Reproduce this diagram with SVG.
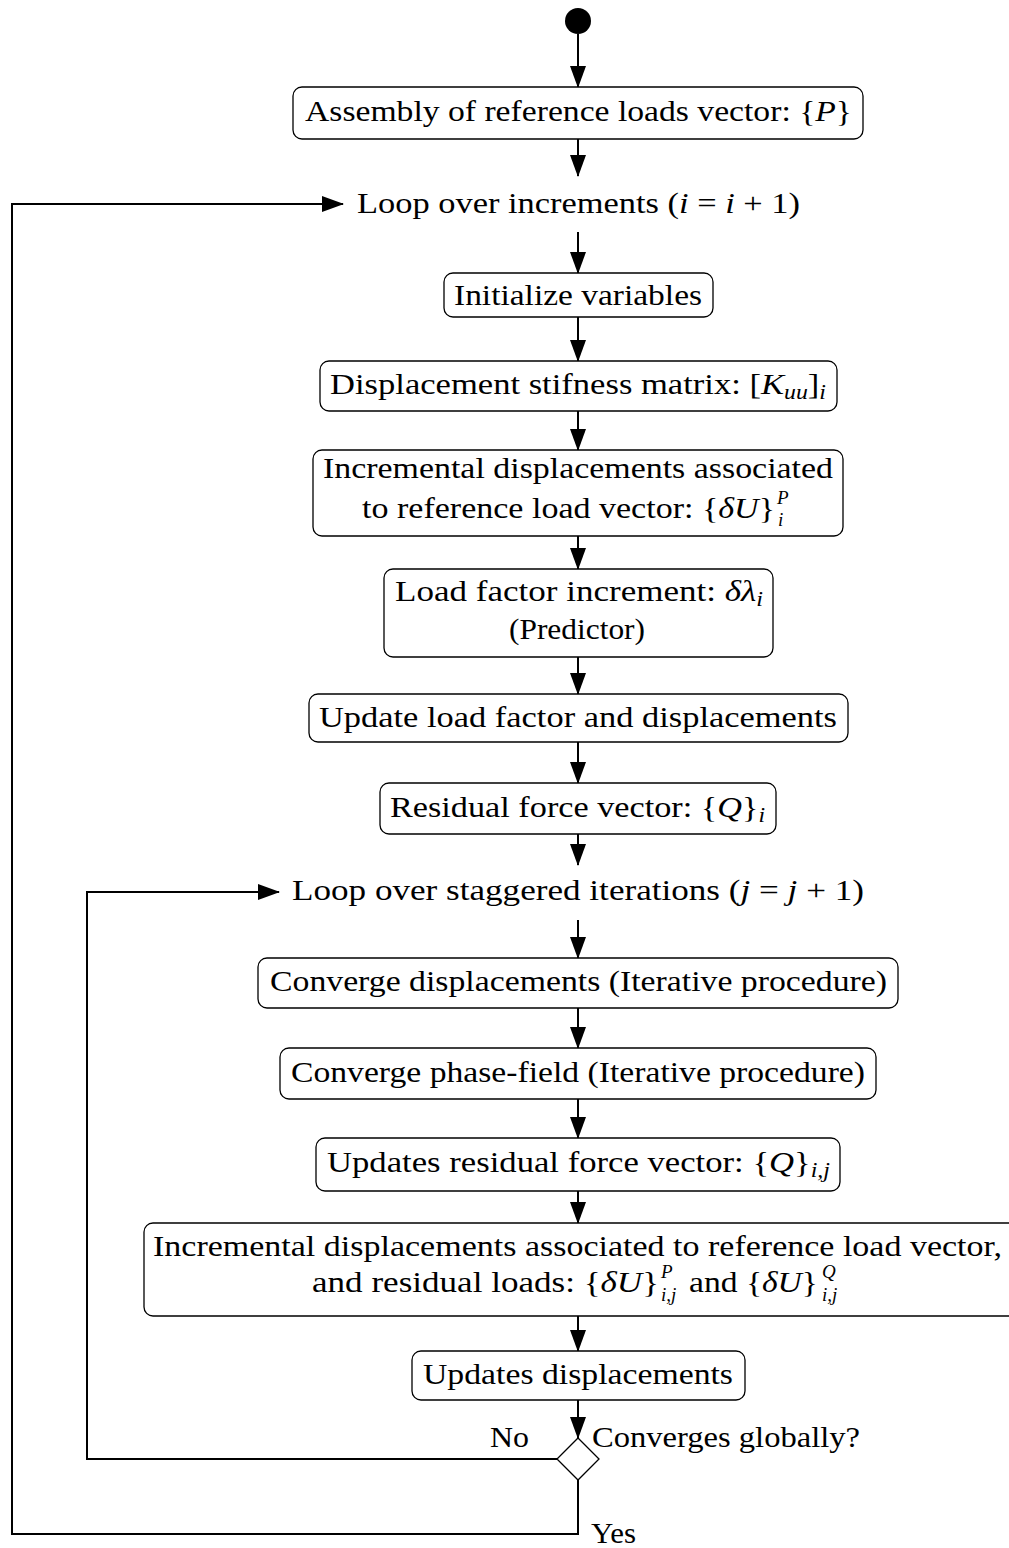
<svg xmlns="http://www.w3.org/2000/svg" width="1009" height="1548" viewBox="0 0 1009 1548">
<style>
.box{fill:#fff;stroke:#000;stroke-width:1.3}
.t{font-family:"Liberation Serif","DejaVu Serif",serif;font-size:29px;fill:#000}
.m{font-style:italic}
.s{font-size:20px}
.ss{font-size:19px}
.c{fill:none;stroke:#000;stroke-width:2}
</style>
<defs>
<marker id="ah" markerUnits="userSpaceOnUse" markerWidth="22" markerHeight="16" refX="21" refY="8" orient="auto">
<path d="M0,0 L22,8 L0,16 z" fill="#000"/>
</marker>
</defs>
<g id="connectors">
<line class="c" x1="578" y1="34" x2="578" y2="87" marker-end="url(#ah)"/>
<line class="c" x1="578" y1="139" x2="578" y2="176" marker-end="url(#ah)"/>
<line class="c" x1="578" y1="232" x2="578" y2="273" marker-end="url(#ah)"/>
<line class="c" x1="578" y1="317" x2="578" y2="361" marker-end="url(#ah)"/>
<line class="c" x1="578" y1="411" x2="578" y2="450" marker-end="url(#ah)"/>
<line class="c" x1="578" y1="536" x2="578" y2="569" marker-end="url(#ah)"/>
<line class="c" x1="578" y1="657" x2="578" y2="694" marker-end="url(#ah)"/>
<line class="c" x1="578" y1="742" x2="578" y2="783" marker-end="url(#ah)"/>
<line class="c" x1="578" y1="834" x2="578" y2="865" marker-end="url(#ah)"/>
<line class="c" x1="578" y1="920" x2="578" y2="958" marker-end="url(#ah)"/>
<line class="c" x1="578" y1="1008" x2="578" y2="1048" marker-end="url(#ah)"/>
<line class="c" x1="578" y1="1099" x2="578" y2="1138" marker-end="url(#ah)"/>
<line class="c" x1="578" y1="1191" x2="578" y2="1223" marker-end="url(#ah)"/>
<line class="c" x1="578" y1="1316" x2="578" y2="1351" marker-end="url(#ah)"/>
<line class="c" x1="578" y1="1400" x2="578" y2="1438" marker-end="url(#ah)"/>
<polyline class="c" points="578,1480 578,1534 12,1534 12,204 343,204" marker-end="url(#ah)"/>
<polyline class="c" points="557,1459 87,1459 87,892 279,892" marker-end="url(#ah)"/>
</g>
<g id="start"><circle cx="578" cy="21" r="13" fill="#000"/></g>
<g id="n1"><rect class="box" x="293" y="87" width="570" height="52" rx="9"/>
<text class="t" x="305" y="121" textLength="547" lengthAdjust="spacingAndGlyphs">Assembly of reference loads vector: {<tspan class="m">P</tspan>}</text></g>
<g id="loop1"><text class="t" x="357" y="213" textLength="443" lengthAdjust="spacingAndGlyphs">Loop over increments (<tspan class="m">i</tspan> = <tspan class="m">i</tspan> + 1)</text></g>
<g id="n2"><rect class="box" x="444" y="273" width="269" height="44" rx="9"/>
<text class="t" x="454" y="305" textLength="248" lengthAdjust="spacingAndGlyphs">Initialize variables</text></g>
<g id="n3"><rect class="box" x="320" y="361" width="517" height="50" rx="9"/>
<text class="t" x="330" y="394" textLength="496" lengthAdjust="spacingAndGlyphs">Displacement stifness matrix: [<tspan class="m">K</tspan><tspan class="m s" dy="5">uu</tspan><tspan dy="-5">]</tspan><tspan class="m s" dy="5">i</tspan></text></g>
<g id="n4"><rect class="box" x="313" y="450" width="530" height="86" rx="9"/>
<text class="t" x="323" y="478" textLength="510" lengthAdjust="spacingAndGlyphs">Incremental displacements associated</text>
<text class="t" x="362" y="518" textLength="413" lengthAdjust="spacingAndGlyphs">to reference load vector: {<tspan class="m">δU</tspan>}</text>
<text class="t m ss" x="777" y="504">P</text>
<text class="t m ss" x="778" y="526">i</text></g>
<g id="n5"><rect class="box" x="384" y="569" width="389" height="88" rx="9"/>
<text class="t" x="395" y="601" textLength="368" lengthAdjust="spacingAndGlyphs">Load factor increment: <tspan class="m">δλ</tspan><tspan class="m s" dy="5">i</tspan></text>
<text class="t" x="509" y="639" textLength="136" lengthAdjust="spacingAndGlyphs">(Predictor)</text></g>
<g id="n6"><rect class="box" x="309" y="694" width="539" height="48" rx="9"/>
<text class="t" x="319" y="727" textLength="518" lengthAdjust="spacingAndGlyphs">Update load factor and displacements</text></g>
<g id="n7"><rect class="box" x="380" y="783" width="396" height="51" rx="9"/>
<text class="t" x="390" y="817" textLength="375" lengthAdjust="spacingAndGlyphs">Residual force vector: {<tspan class="m">Q</tspan>}<tspan class="m s" dy="5">i</tspan></text></g>
<g id="loop2"><text class="t" x="292" y="900" textLength="572" lengthAdjust="spacingAndGlyphs">Loop over staggered iterations (<tspan class="m">j</tspan> = <tspan class="m">j</tspan> + 1)</text></g>
<g id="n8"><rect class="box" x="258" y="958" width="640" height="50" rx="9"/>
<text class="t" x="270" y="991" textLength="617" lengthAdjust="spacingAndGlyphs">Converge displacements (Iterative procedure)</text></g>
<g id="n9"><rect class="box" x="280" y="1048" width="596" height="51" rx="9"/>
<text class="t" x="291" y="1082" textLength="574" lengthAdjust="spacingAndGlyphs">Converge phase-field (Iterative procedure)</text></g>
<g id="n10"><rect class="box" x="316" y="1138" width="524" height="53" rx="9"/>
<text class="t" x="327" y="1172" textLength="503" lengthAdjust="spacingAndGlyphs">Updates residual force vector: {<tspan class="m">Q</tspan>}<tspan class="m s" dy="5">i,j</tspan></text></g>
<g id="n11"><rect class="box" x="144" y="1223" width="880" height="93" rx="9"/>
<text class="t" x="153" y="1256" textLength="849" lengthAdjust="spacingAndGlyphs">Incremental displacements associated to reference load vector,</text>
<text class="t" x="312" y="1292" textLength="347" lengthAdjust="spacingAndGlyphs">and residual loads: {<tspan class="m">δU</tspan>}</text>
<text class="t m ss" x="661" y="1278">P</text>
<text class="t m ss" x="661" y="1301">i,j</text>
<text class="t" x="689" y="1292" textLength="129" lengthAdjust="spacingAndGlyphs">and {<tspan class="m">δU</tspan>}</text>
<text class="t m ss" x="822" y="1278">Q</text>
<text class="t m ss" x="822" y="1301">i,j</text></g>
<g id="n12"><rect class="box" x="412" y="1351" width="333" height="49" rx="9"/>
<text class="t" x="423" y="1384" textLength="310" lengthAdjust="spacingAndGlyphs">Updates displacements</text></g>
<g id="decision"><path class="box" d="M578,1438 L599,1459 L578,1480 L557,1459 z"/>
<text class="t" x="592" y="1447" textLength="268" lengthAdjust="spacingAndGlyphs">Converges globally?</text></g>
<g id="labels">
<text class="t" x="490" y="1447" textLength="39" lengthAdjust="spacingAndGlyphs">No</text>
<text class="t" x="591" y="1543" textLength="45" lengthAdjust="spacingAndGlyphs">Yes</text>
</g>
</svg>
